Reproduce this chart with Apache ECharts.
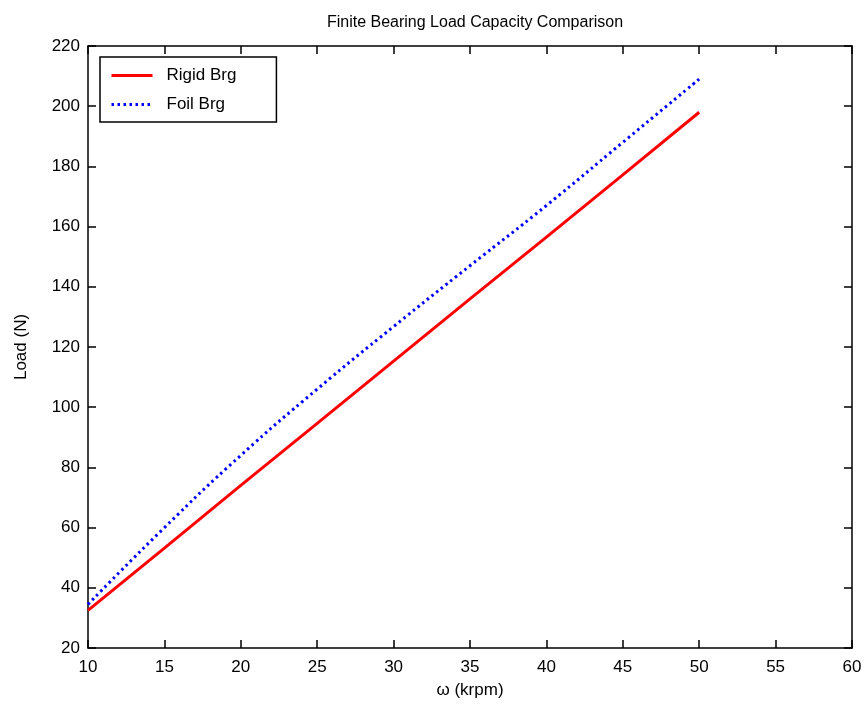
<!DOCTYPE html>
<html>
<head>
<meta charset="utf-8">
<script src="https://cdn.jsdelivr.net/npm/echarts@6/dist/echarts.min.js"></script>
<style>html,body{margin:0;padding:0;background:#fff}#c{width:867px;height:717px}</style>
</head>
<body>
<div id="c"></div>
<script>
const speed = [10, 15, 20, 25, 30, 35, 40, 45, 50];
const rigidLoad = [32.5, 53.2, 74.0, 94.6, 115.3, 136.0, 156.5, 177.2, 198.0];
const foilLoad = [34.5, 60.0, 84.0, 106.0, 126.8, 147.0, 167.0, 188.0, 209.0];
const titleText = 'Finite Bearing Load Capacity Comparison';
const xName = 'ω (krpm)';
const yName = 'Load (N)';
const seriesNames = ['Rigid Brg', 'Foil Brg'];

const FONT = "'Liberation Sans', Arial, sans-serif";
const txt = {color: '#000', fontFamily: FONT, fontSize: 17};
const axisLine = {show: true, lineStyle: {color: '#000', width: 1.5}};
const ticks = {show: true, inside: true, length: 8, lineStyle: {color: '#000', width: 1.5}};

const chart = echarts.init(document.getElementById('c'), null, {renderer: 'canvas'});
chart.setOption({
  backgroundColor: '#fff',
  animation: false,
  title: {text: titleText, left: 470, textAlign: 'center', top: 10,
    textStyle: {color: '#000', fontFamily: FONT, fontSize: 16, fontWeight: 'normal'}},
  grid: {left: 88, right: 15, top: 46, bottom: 69, containLabel: false},
  legend: {
    left: 100, top: 57, orient: 'vertical',
    itemWidth: 41, itemHeight: 14, itemGap: 12,
    padding: [10, 40, 9, 10],
    borderColor: '#000', borderWidth: 1.5, backgroundColor: '#fff',
    itemStyle: {opacity: 0},
    lineStyle: {width: 3},
    textStyle: {color: '#000', fontFamily: FONT, fontSize: 17, padding: [0, 0, 0, 9]},
    data: seriesNames
  },
  xAxis: [
    {type: 'value', min: 10, max: 60, interval: 5, position: 'bottom',
     name: xName, nameLocation: 'middle', nameGap: 34, nameTextStyle: txt,
     axisLine, axisTick: ticks, splitLine: {show: false},
     axisLabel: Object.assign({margin: 11}, txt)},
    {type: 'value', min: 10, max: 60, interval: 5, position: 'top',
     axisLine, axisTick: ticks, splitLine: {show: false}, axisLabel: {show: false}}
  ],
  yAxis: [
    {type: 'value', min: 20, max: 220, interval: 20, position: 'left',
     name: yName, nameLocation: 'middle', nameGap: 58, nameTextStyle: txt,
     axisLine, axisTick: ticks, splitLine: {show: false},
     axisLabel: Object.assign({margin: 8}, txt)},
    {type: 'value', min: 20, max: 220, interval: 20, position: 'right',
     axisLine, axisTick: ticks, splitLine: {show: false}, axisLabel: {show: false}}
  ],
  series: [
    {name: seriesNames[0], type: 'line', symbol: 'none', smooth: false,
     data: speed.map((x, i) => [x, rigidLoad[i]]),
     lineStyle: {color: '#ff0000', width: 3, type: 'solid'}, itemStyle: {color: '#ff0000'}},
    {name: seriesNames[1], type: 'line', symbol: 'none', smooth: true,
     data: speed.map((x, i) => [x, foilLoad[i]]),
     lineStyle: {color: '#0000ff', width: 3, type: [2.5, 3.5]}, itemStyle: {color: '#0000ff'}}
  ]
});
</script>
</body>
</html>
